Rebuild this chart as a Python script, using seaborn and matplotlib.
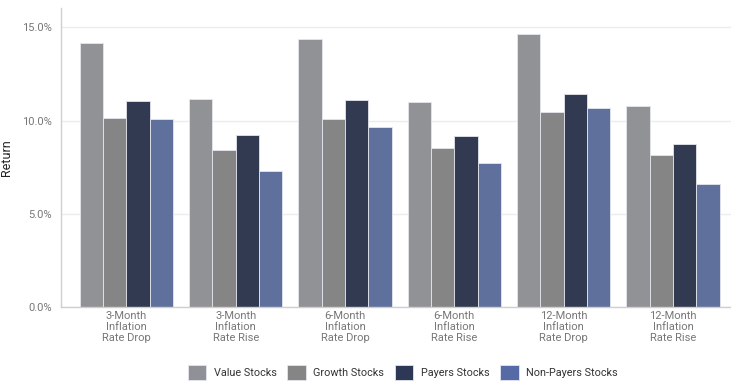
import matplotlib
matplotlib.use("Agg")
import matplotlib.pyplot as plt
import seaborn as sns
import pandas as pd
from matplotlib.ticker import FuncFormatter
from matplotlib.patches import Patch

categories = ["3-Month\nInflation\nRate Drop", "3-Month\nInflation\nRate Rise",
              "6-Month\nInflation\nRate Drop", "6-Month\nInflation\nRate Rise",
              "12-Month\nInflation\nRate Drop", "12-Month\nInflation\nRate Rise"]
series = ["Value Stocks", "Growth Stocks", "Payers Stocks", "Non-Payers Stocks"]
value_stocks = [14.15, 11.18, 14.40, 10.99, 14.67, 10.81]
growth_stocks = [10.13, 8.44, 10.07, 8.55, 10.48, 8.16]
payers_stocks = [11.08, 9.21, 11.11, 9.18, 11.45, 8.73]
nonpayers_stocks = [10.09, 7.28, 9.68, 7.71, 10.68, 6.62]
colors = ["#909196", "#858585", "#2d3856", "#566ba6"]

rows = []
for s, vals in zip(series, [value_stocks, growth_stocks, payers_stocks, nonpayers_stocks]):
    for c, v in zip(categories, vals):
        rows.append({"Category": c, "Series": s, "Return": v})
df = pd.DataFrame(rows)

sns.set_theme(style="white")
plt.rcParams['font.family'] = ['Roboto', 'DejaVu Sans']

fig = plt.figure(figsize=(7.31, 3.83), dpi=100)
ax = fig.add_axes([0.083, 0.1984, 0.917, 0.781])
sns.barplot(data=df, x="Category", y="Return", hue="Series", order=categories,
            hue_order=series, palette=colors, width=0.854, gap=0,
            edgecolor="#e4e6ee", linewidth=0.6, ax=ax, legend=False)

ax.set_xlim(-0.6, 5.53)
ax.set_ylim(0, 16.05)
ax.set_yticks([0, 5, 10, 15])
ax.yaxis.set_major_formatter(FuncFormatter(lambda v, p: f"{v:.1f}%"))
ax.yaxis.grid(True, color="#ececec", linewidth=1)
ax.set_axisbelow(True)
ax.tick_params(axis="both", length=0, labelsize=8, colors="#777777", pad=3)
ax.tick_params(axis="y", pad=6)
for lbl in ax.get_xticklabels():
    lbl.set_linespacing(1.1)
ax.set_xlabel("")
ax.set_ylabel("Return", fontsize=9, color="#222222")
ax.yaxis.set_label_coords(-0.071, 0.5)
for side in ["top", "right"]:
    ax.spines[side].set_visible(False)
for side in ["left", "bottom"]:
    ax.spines[side].set_color("#cfcfcf")
    ax.spines[side].set_linewidth(1)

handles = [Patch(facecolor=c, edgecolor="#e4e6ee", linewidth=0.6) for c in colors]
fig.legend(handles, series, loc="center", bbox_to_anchor=(0.551, 0.028), ncol=4,
           frameon=False, fontsize=7.8, handlelength=1.7, handleheight=1.7,
           handletextpad=0.7, columnspacing=1.0, labelcolor="#333333")

fig.savefig("out.png", dpi=100)
